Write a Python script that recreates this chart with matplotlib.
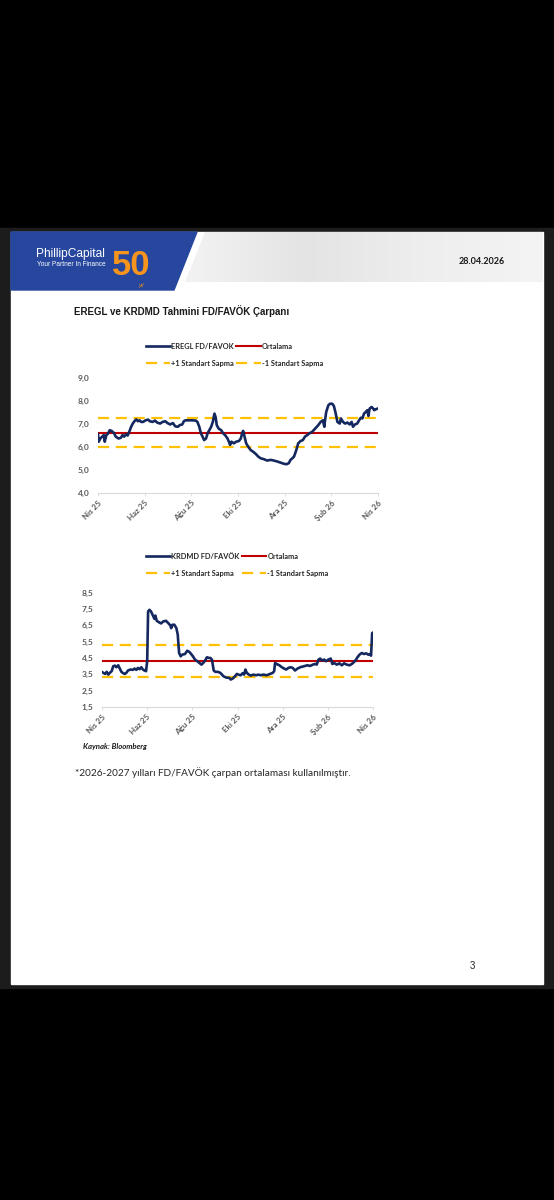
import matplotlib
matplotlib.use('Agg')
import matplotlib.pyplot as plt
import numpy as np
from matplotlib.patches import Polygon, Rectangle

plt.rcParams['font.family'] = ['Lato', 'DejaVu Sans']

W, H = 554, 1200

# x values are months counted from "Nis 25"
eregl_months = [
    0, 0.03, 0.10, 0.18, 0.25, 0.29, 0.35, 0.44, 0.50, 0.58,
    0.69, 0.76, 0.88, 0.98, 1.05, 1.12, 1.20, 1.27, 1.34, 1.42,
    1.49, 1.56, 1.64, 1.71, 1.78, 1.85, 1.93, 2.04, 2.15, 2.22,
    2.34, 2.44, 2.54, 2.66, 2.77, 2.88, 2.98, 3.09, 3.21, 3.31,
    3.42, 3.50, 3.61, 3.68, 3.75, 3.90, 4.04, 4.19, 4.26, 4.34,
    4.41, 4.48, 4.55, 4.63, 4.70, 4.77, 4.85, 4.92, 4.99, 5.04,
    5.09, 5.17, 5.28, 5.36, 5.46, 5.55, 5.61, 5.66, 5.72, 5.82,
    5.92, 6.04, 6.12, 6.18, 6.22, 6.28, 6.35, 6.44, 6.54, 6.68,
    6.78, 6.87, 6.97, 7.11, 7.25, 7.40, 7.54, 7.68, 7.83, 7.97,
    8.08, 8.18, 8.25, 8.33, 8.40, 8.50, 8.58, 8.68, 8.78, 8.87,
    8.97, 9.07, 9.18, 9.33, 9.44, 9.54, 9.64, 9.70, 9.73, 9.78,
    9.87, 9.94, 10.04, 10.11, 10.19, 10.26, 10.36, 10.41, 10.50, 10.59,
    10.69, 10.79, 10.87, 10.93, 11.01, 11.11, 11.19, 11.26, 11.33, 11.40,
    11.47, 11.54, 11.59, 11.64, 11.73, 11.79, 11.84, 11.90, 11.99,
]
eregl_values = [
    6.55, 6.23, 6.37, 6.45, 6.52, 6.23, 6.50, 6.60, 6.73, 6.70,
    6.60, 6.45, 6.37, 6.40, 6.52, 6.45, 6.55, 6.50, 6.66, 6.88,
    7.02, 7.12, 7.20, 7.12, 7.16, 7.09, 7.09, 7.16, 7.19, 7.12,
    7.09, 7.15, 7.06, 7.02, 7.09, 7.12, 7.04, 6.98, 7.04, 6.90,
    6.88, 6.95, 6.98, 7.12, 7.16, 7.16, 7.16, 7.15, 7.09, 6.88,
    6.60, 6.45, 6.30, 6.37, 6.60, 6.73, 6.88, 7.09, 7.45, 7.30,
    6.95, 6.80, 6.73, 6.60, 6.50, 6.37, 6.23, 6.09, 6.23, 6.16,
    6.23, 6.26, 6.37, 6.60, 6.70, 6.45, 6.16, 6.01, 5.87, 5.77,
    5.68, 5.58, 5.51, 5.47, 5.41, 5.44, 5.41, 5.37, 5.32, 5.27,
    5.25, 5.30, 5.44, 5.51, 5.58, 5.87, 6.16, 6.26, 6.30, 6.45,
    6.52, 6.60, 6.66, 6.83, 6.95, 7.09, 7.16, 6.88, 7.16, 7.52,
    7.81, 7.88, 7.88, 7.78, 7.45, 7.09, 7.02, 7.24, 7.09, 7.02,
    7.06, 6.98, 7.09, 6.88, 6.98, 7.02, 7.16, 7.27, 7.24, 7.45,
    7.52, 7.60, 7.35, 7.67, 7.74, 7.67, 7.60, 7.64, 7.67,
]
eregl_mean = 6.62
eregl_std = 0.64

krdmd_months = [
    0, 0.07, 0.15, 0.22, 0.29, 0.36, 0.44, 0.51, 0.58, 0.65,
    0.73, 0.80, 0.87, 0.95, 1.02, 1.09, 1.16, 1.27, 1.38, 1.45,
    1.53, 1.60, 1.67, 1.75, 1.82, 1.89, 1.96, 2.01, 2.05, 2.11,
    2.18, 2.25, 2.33, 2.37, 2.43, 2.52, 2.62, 2.72, 2.84, 2.94,
    3.03, 3.07, 3.13, 3.21, 3.30, 3.36, 3.42, 3.49, 3.56, 3.68,
    3.78, 3.88, 3.97, 4.03, 4.12, 4.22, 4.32, 4.41, 4.48, 4.55,
    4.65, 4.73, 4.80, 4.87, 4.95, 5.02, 5.13, 5.24, 5.31, 5.38,
    5.50, 5.64, 5.70, 5.79, 5.89, 5.97, 6.04, 6.14, 6.23, 6.29,
    6.35, 6.41, 6.50, 6.59, 6.70, 6.82, 6.92, 7.03, 7.14, 7.29,
    7.44, 7.56, 7.62, 7.66, 7.73, 7.85, 7.96, 8.06, 8.15, 8.25,
    8.35, 8.44, 8.54, 8.65, 8.77, 8.88, 8.99, 9.09, 9.21, 9.33,
    9.43, 9.50, 9.58, 9.65, 9.74, 9.83, 9.91, 10.02, 10.12, 10.19,
    10.27, 10.39, 10.50, 10.61, 10.71, 10.83, 10.95, 11.05, 11.15, 11.24,
    11.30, 11.39, 11.49, 11.59, 11.68, 11.78, 11.86, 11.90, 11.95, 12.0,
]
krdmd_values = [
    3.65, 3.59, 3.52, 3.65, 3.48, 3.59, 3.69, 3.99, 4.03, 3.93,
    4.05, 3.85, 3.65, 3.57, 3.52, 3.59, 3.73, 3.79, 3.77, 3.85,
    3.77, 3.89, 3.81, 3.93, 3.79, 3.73, 3.69, 4.30, 7.34, 7.44,
    7.34, 7.13, 6.89, 7.09, 6.77, 6.69, 6.61, 6.73, 6.77, 6.63,
    6.49, 6.32, 6.53, 6.53, 6.32, 5.92, 4.80, 4.60, 4.70, 4.74,
    4.94, 4.86, 4.70, 4.60, 4.40, 4.30, 4.19, 4.09, 4.19, 4.30,
    4.54, 4.50, 4.50, 4.40, 3.73, 3.65, 3.65, 3.59, 3.48, 3.38,
    3.30, 3.28, 3.18, 3.24, 3.38, 3.52, 3.48, 3.44, 3.57, 3.48,
    3.79, 3.59, 3.48, 3.42, 3.48, 3.44, 3.48, 3.44, 3.48, 3.44,
    3.52, 3.59, 3.69, 4.19, 4.13, 4.05, 3.93, 3.85, 3.79, 3.89,
    3.93, 3.89, 3.73, 3.85, 3.93, 3.97, 4.01, 4.05, 4.01, 4.09,
    4.13, 4.09, 4.40, 4.46, 4.34, 4.40, 4.30, 4.40, 4.46, 4.13,
    4.19, 4.09, 4.17, 4.05, 4.17, 4.09, 4.05, 4.13, 4.25, 4.40,
    4.54, 4.70, 4.80, 4.74, 4.78, 4.70, 4.74, 4.64, 6.02, 6.06,
]
krdmd_mean = 4.30
krdmd_std = 0.99

tick_months = [0, 2, 4, 6, 8, 10, 12]
tick_labels = ['Nis 25', 'Haz 25', 'Ağu 25', 'Eki 25', 'Ara 25', 'Şub 26', 'Nis 26']

NAVY = '#14285f'
RED = '#c00000'
GOLD = '#ffc000'
TICK_GREY = '#595959'

fig = plt.figure(figsize=(W / 100, H / 100), dpi=100, facecolor='black')

# background canvas in pixel coordinates
bg = fig.add_axes([0, 0, 1, 1])
bg.set_xlim(0, W)
bg.set_ylim(H, 0)
bg.axis('off')
bg.add_patch(Rectangle((0, 228), W, 760, color='#1c1c1c'))
bg.add_patch(Rectangle((11, 232), 532, 752, color='white'))

# header
grey_band = Polygon([(205, 232), (543, 232), (543, 282), (185, 282)], closed=True,
                    facecolor='none', edgecolor='none')
bg.add_patch(grey_band)
grad = np.linspace(0.0, 1.0, 200)[None, :]
hdr_cmap = matplotlib.colors.LinearSegmentedColormap.from_list(
    'hdr', ['#f3f3f3', '#e4e4e4', '#eeeeee', '#f4f4f4'])
im = bg.imshow(grad, extent=(185, 543, 282, 232), cmap=hdr_cmap, aspect='auto', zorder=1)
im.set_clip_path(grey_band)
bg.add_patch(Polygon([(11, 232), (197, 232), (174, 290), (11, 290)], closed=True,
                     color='#26479d', zorder=2))
bg.text(36, 254, 'PhillipCapital', color='white', fontsize=8.6,
        family='Liberation Sans', va='center', zorder=3)
bg.text(37, 265, 'Your Partner In Finance', color='white', fontsize=4.7,
        family='Liberation Sans', va='center', zorder=3)
bg.text(131, 275, '50', color='#f7941d', fontsize=25, fontweight='bold',
        family='Liberation Sans', ha='center', va='baseline', zorder=3)
bg.text(141, 285, 'yıl', color='#f7941d', fontsize=4, style='italic',
        family='Liberation Sans', ha='center', va='center', zorder=3)
bg.text(505, 262, '28.04.2026', color='#1a1a1a', fontsize=6.5, fontweight='bold',
        ha='right', va='center', zorder=3)

bg.text(74, 311, 'EREGL ve KRDMD Tahmini FD/FAVÖK Çarpanı', color='#1a1a1a',
        fontsize=7, fontweight='bold', family='Liberation Sans', va='center')


def add_chart(box, months, values, mean, std, ylim, yticks, name, legend_xy):
    x0, y0, x1, y1 = box
    ax = fig.add_axes([x0 / W, 1 - y1 / H, (x1 - x0) / W, (y1 - y0) / H])
    ax.patch.set_alpha(0)
    series, = ax.plot(months, values, color=NAVY, lw=1.9, solid_joinstyle='round', zorder=3)
    avg = ax.axhline(mean, color=RED, lw=1.5, zorder=2)
    up = ax.axhline(mean + std, color=GOLD, lw=1.6, dashes=(5, 3), zorder=2)
    dn = ax.axhline(mean - std, color=GOLD, lw=1.6, dashes=(5, 3), zorder=2)

    ax.set_xlim(0, 12)
    ax.set_ylim(*ylim)
    ax.set_yticks(yticks)
    ax.set_yticklabels([f'{v:.1f}'.replace('.', ',') for v in yticks])
    ax.set_xticks(tick_months)
    ax.set_xticklabels(tick_labels, rotation=45, ha='right', rotation_mode='anchor')
    for s in ['top', 'right', 'left']:
        ax.spines[s].set_visible(False)
    ax.spines['bottom'].set_color('#d9d9d9')
    ax.spines['bottom'].set_linewidth(0.8)
    ax.tick_params(axis='y', length=0, pad=6, labelsize=6, labelcolor=TICK_GREY)
    ax.tick_params(axis='x', length=2.5, width=0.6, color='#d9d9d9', pad=2,
                   labelsize=5.8, labelcolor=TICK_GREY)
    for lab in ax.get_xticklabels() + ax.get_yticklabels():
        lab.set_fontweight('bold')

    ax.legend([series, up, avg, dn],
              [name, '+1 Standart Sapma', 'Ortalama', '-1 Standart Sapma'],
              ncol=2, loc='upper left',
              bbox_to_anchor=(legend_xy[0] / W, 1 - legend_xy[1] / H),
              bbox_transform=fig.transFigure, frameon=False,
              prop={'size': 5.3, 'weight': 'bold'}, labelcolor='#262626',
              handlelength=3.3, handletextpad=0.15, columnspacing=0.3,
              labelspacing=1.3, borderpad=0, borderaxespad=0)
    return ax


add_chart((98, 378, 378, 493), eregl_months, eregl_values, eregl_mean, eregl_std,
          (4, 9), [4, 5, 6, 7, 8, 9], 'EREGL FD/FAVOK', (146, 343))
add_chart((101.7, 592.5, 373.3, 707), krdmd_months, krdmd_values, krdmd_mean, krdmd_std,
          (1.5, 8.5), [1.5, 2.5, 3.5, 4.5, 5.5, 6.5, 7.5, 8.5], 'KRDMD FD/FAVÖK', (146, 553))

bg.text(83, 747, 'Kaynak: Bloomberg', color='#1a1a1a', fontsize=5.6,
        fontweight='bold', style='italic', va='center')
bg.text(75, 773, '*2026-2027 yılları FD/FAVÖK çarpan ortalaması kullanılmıştır.',
        color='#262626', fontsize=7.2, va='center')
bg.text(472, 966, '3', color='#262626', fontsize=7, family='Liberation Sans',
        ha='center', va='center')

fig.savefig('out.png', dpi=100, facecolor='black')
